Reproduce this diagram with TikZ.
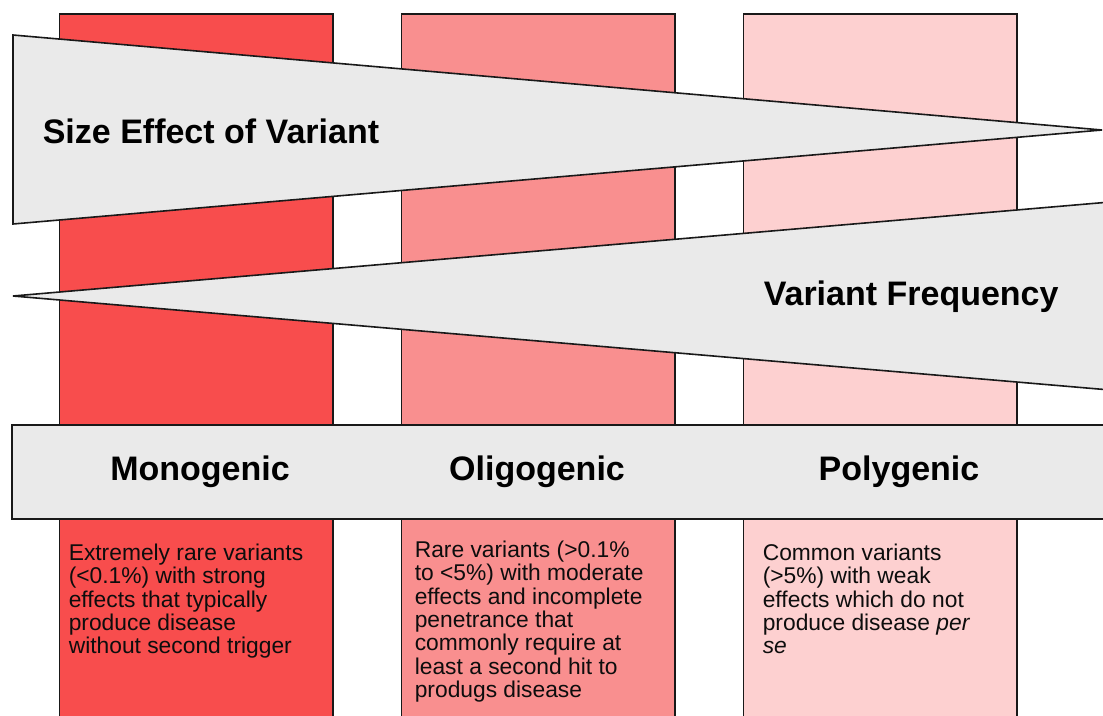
\documentclass[tikz,border=0pt]{standalone}
\usepackage{fontspec}
\setmainfont{Liberation Sans}
\definecolor{cA}{RGB}{248,77,77}
\definecolor{cB}{RGB}{249,143,143}
\definecolor{cC}{RGB}{253,208,208}
\definecolor{gr}{RGB}{234,234,234}
\begin{document}
\begin{tikzpicture}[x=1pt,y=-1pt,line width=1.6pt,line join=miter,
  colbox/.style={draw=black!90,rectangle,inner sep=0pt,anchor=north west,minimum width=273.5pt,minimum height=720pt},
  tri/.style={draw=black!90,fill=gr},
  band/.style={draw=black!90,fill=gr,rectangle,inner sep=0pt,anchor=north west,minimum width=1100pt,minimum height=94pt},
  big/.style={font=\fontsize{34}{40}\selectfont\bfseries,inner sep=0pt},
  body/.style={font=\fontsize{22.8}{23.4}\selectfont,inner sep=0pt,anchor=north west,align=left,text=black!95}]
\useasboundingbox (0,0) rectangle (1103,715);
\clip (0,0) rectangle (1103,715);
\node[colbox,fill=cA] (col1) at (58.5,13) {};
\node[colbox,fill=cB] (col2) at (400.5,13) {};
\node[colbox,fill=cC] (col3) at (742.5,13) {};
\draw[tri] (13,35) -- (1102,130) -- (13,224) -- cycle;
\draw[tri] (13,296) -- (1110,202) -- (1110,390) -- cycle;
\node[band] (band) at (11,424) {};
\node[big,anchor=west] (size) at (42,131) {Size Effect of Variant};
\node[big,anchor=west] (freq) at (763,297) {Variant Frequency};
\node[big] (mono) at (200,472) {Monogenic};
\node[big] (oligo) at (537,472) {Oligogenic};
\node[big] (poly) at (899,472) {Polygenic};
\node[body] (d1) at (68,543) {Extremely rare variants\\(<0.1\%) with strong\\effects that typically\\produce disease\\without second trigger};
\node[body] (d2) at (414,540) {Rare variants (>0.1\%\\to <5\%) with moderate\\effects and incomplete\\penetrance that\\commonly require at\\least a second hit to\\produgs disease};
\node[body] (d3) at (762,543) {Common variants\\(>5\%) with weak\\effects which do not\\produce disease \textit{per}\\\textit{se}};
\end{tikzpicture}
\end{document}
